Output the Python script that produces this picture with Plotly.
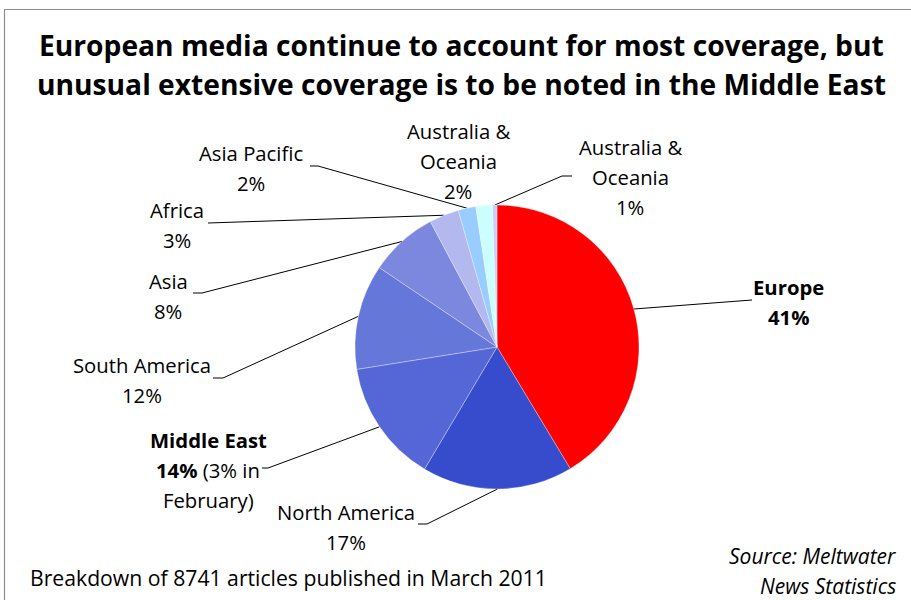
import numpy as np
import plotly.graph_objects as go

# ---------------- data ----------------
regions = ["Europe", "North America", "Middle East", "South America", "Asia",
           "Africa", "Asia Pacific", "Australia &<br>Oceania", "Australia &<br>Oceania"]
shares = [41.5, 17.2, 14.0, 12.0, 7.8, 3.4, 2.0, 1.9, 0.5]
pct_labels = ["41%", "17%", "14%", "12%", "8%", "3%", "2%", "2%", "1%"]
middle_east_note = "(3% in February)"
title_lines = ["European media continue to account for most coverage, but",
               "unusual extensive coverage is to be noted in the Middle East"]
footnote = "Breakdown of 8741 articles published in March 2011"
source_lines = ["Source: Meltwater", "News Statistics"]

# ---------------- style / layout ----------------
W, H = 911, 600
CX, CY, R = 497, 347, 142
FONT = "Open Sans"
colors = ["#FF0000", "#374BCD", "#5567D6", "#6677DA", "#7B88DD",
          "#B3B9EE", "#99CCFF", "#CCFFFF", "#CCCCFF"]
bold = [True, False, True, False, False, False, False, False, False]

# label text lines (built from data)
label_lines = []
for i, (reg, pct) in enumerate(zip(regions, pct_labels)):
    name_parts = reg.split("<br>")
    if bold[i]:
        name_parts = ["<b>%s</b>" % p for p in name_parts]
        pct_txt = "<b>%s</b>" % pct
    else:
        pct_txt = pct
    if reg == "Middle East":
        lines = name_parts + [pct_txt + " " + middle_east_note.split(" in ")[0] + " in",
                              middle_east_note.split(" in ")[1]]
    else:
        lines = name_parts + [pct_txt]
    label_lines.append(lines)

# label placement (center x, y of first line) and line height
label_pos = [(788, 287), (346, 512), (208, 440), (142, 365), (168, 281),
             (177, 210), (251, 153), (458, 131), (630, 147)]
LINE_H = 30
# leader line end points (elbow, end); None = no leader
leader_ends = [[(745, 300), (752, 300)],
               [(427, 524), (418, 524)],
               [(268, 468), (262, 468)],
               [(223, 378), (213, 378)],
               [(202, 293), (193, 293)],
               [(214, 223), (208, 223)],
               [(318, 166), (310, 166)],
               None,
               [(562, 176), (572, 176)]]

fig = go.Figure()

fig.add_trace(go.Pie(
    labels=[r.replace("<br>", " ") + " %d" % i for i, r in enumerate(regions)],
    values=shares,
    sort=False, direction="clockwise", rotation=0,
    marker=dict(colors=colors, line=dict(width=0.6, color="rgba(255,255,255,0.5)")),
    textinfo="none", hoverinfo="skip", showlegend=False,
    domain=dict(x=[(CX - R) / W, (CX + R) / W], y=[(H - CY - R) / H, (H - CY + R) / H]),
))

# leader lines: start at slice mid-angle on the rim
vals = np.array(shares, dtype=float)
cum = np.cumsum(vals) - vals / 2
mid_ang = cum / vals.sum() * 2 * np.pi
lx, ly = [], []
for a, ends in zip(mid_ang, leader_ends):
    if ends is None:
        continue
    lx += [CX + R * np.sin(a)] + [e[0] for e in ends] + [None]
    ly += [CY - R * np.cos(a)] + [e[1] for e in ends] + [None]
fig.add_trace(go.Scatter(x=lx, y=ly, mode="lines", line=dict(color="black", width=1),
                         hoverinfo="skip", showlegend=False))

LBL = 20.3
ann = []
for lines, (x, y) in zip(label_lines, label_pos):
    for k, t in enumerate(lines):
        ann.append(dict(x=x, y=y + k * LINE_H, xref="x", yref="y", text=t, showarrow=False,
                        xanchor="center", yanchor="middle",
                        font=dict(family=FONT, size=LBL, color="black")))
for k, t in enumerate(title_lines):
    ann.append(dict(x=461, y=45 + k * 39, xref="x", yref="y", text="<b>%s</b>" % t,
                    showarrow=False, xanchor="center", yanchor="middle",
                    font=dict(family=FONT, size=28.2, color="black")))
ann.append(dict(x=28, y=577, xref="x", yref="y", text=footnote, showarrow=False,
                xanchor="left", yanchor="middle",
                font=dict(family=FONT, size=21.2, color="black")))
for k, t in enumerate(source_lines):
    ann.append(dict(x=898, y=556 + k * 30, xref="x", yref="y", text="<i>%s</i>" % t,
                    showarrow=False, xanchor="right", yanchor="middle",
                    font=dict(family=FONT, size=21, color="black")))

fig.update_layout(
    width=W, height=H, margin=dict(l=0, r=0, t=0, b=0),
    paper_bgcolor="white", plot_bgcolor="rgba(0,0,0,0)",
    xaxis=dict(range=[0, W], visible=False, domain=[0, 1], fixedrange=True),
    yaxis=dict(range=[H, 0], visible=False, domain=[0, 1], fixedrange=True),
    annotations=ann,
    shapes=[dict(type="rect", xref="x", yref="y", x0=4.5, y0=9.5, x1=W + 5, y1=H + 5,
                 line=dict(color="#8C8C8C", width=1.2), fillcolor="rgba(0,0,0,0)", layer="below")],
)

fig.write_html("out.html")
